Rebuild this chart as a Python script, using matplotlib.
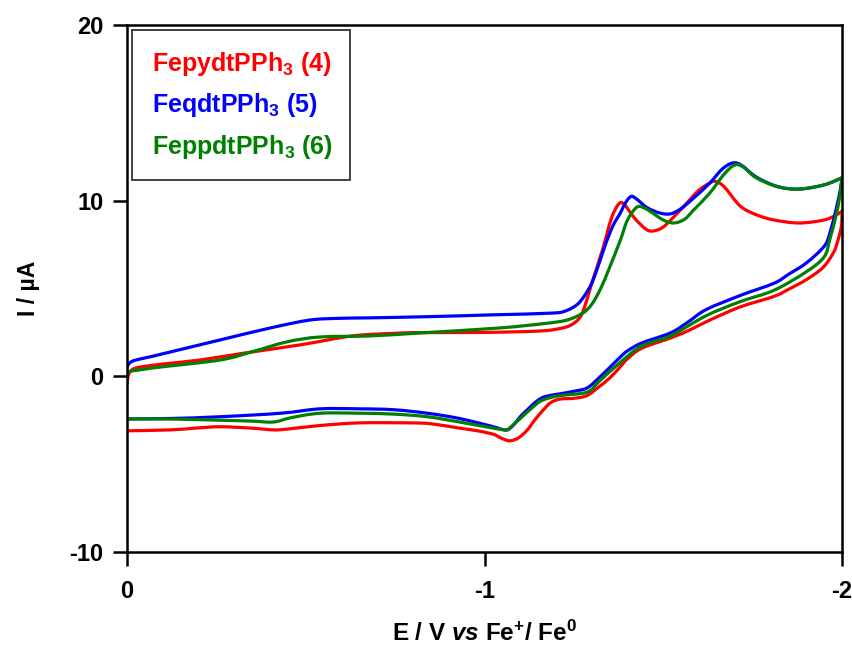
import matplotlib
matplotlib.use("Agg")
import matplotlib.pyplot as plt
from matplotlib.path import Path
from matplotlib.patches import PathPatch

# Cyclic voltammograms: forward sweep (0 -> -2 V) and return sweep (-2 -> 0 V)
red_fwd_E = [0, -0.003, -0.01, -0.03, -0.1, -0.204, -0.33, -0.484, -0.63, -0.75, -0.82, -1.0,
             -1.155, -1.21, -1.24, -1.265, -1.28, -1.30, -1.33, -1.355, -1.375, -1.39, -1.42,
             -1.45, -1.47, -1.50, -1.54, -1.566, -1.60, -1.63, -1.645, -1.67, -1.715, -1.76,
             -1.81, -1.88, -1.95, -1.985, -2.0]
red_fwd_I = [-0.38, 0.0, 0.3, 0.5, 0.7, 0.93, 1.33, 1.79, 2.3, 2.45, 2.49, 2.5,
             2.58, 2.72, 2.9, 3.3, 3.95, 5.3, 7.2, 9.0, 9.8, 9.8, 9.0,
             8.4, 8.27, 8.5, 9.3, 9.87, 10.6, 11.0, 11.1, 10.8, 9.7, 9.2,
             8.9, 8.73, 8.9, 9.2, 9.4]
red_rev_E = [-2.0, -1.998, -1.985, -1.975, -1.947, -1.9, -1.85, -1.81, -1.715, -1.63, -1.57,
             -1.52, -1.44, -1.40, -1.38, -1.35, -1.32, -1.286, -1.25, -1.21, -1.185, -1.165,
             -1.14, -1.12, -1.095, -1.07, -1.045, -1.025, -0.98, -0.93, -0.85, -0.79, -0.65,
             -0.54, -0.45, -0.41, -0.35, -0.26, -0.19, -0.12, 0]
red_rev_I = [9.4, 8.5, 7.5, 7.0, 6.2, 5.5, 4.95, 4.55, 3.95, 3.2, 2.6,
             2.18, 1.6, 1.0, 0.55, -0.1, -0.6, -1.1, -1.25, -1.3, -1.5, -1.9,
             -2.5, -3.05, -3.5, -3.67, -3.5, -3.3, -3.1, -2.95, -2.7, -2.65, -2.65,
             -2.8, -3.0, -3.05, -2.95, -2.87, -2.95, -3.05, -3.1]

blue_fwd_E = [0, -0.005, -0.02, -0.073, -0.26, -0.40, -0.51, -0.59, -0.68, -0.85, -1.02, -1.19,
              -1.23, -1.26, -1.28, -1.30, -1.32, -1.34, -1.36, -1.38, -1.395, -1.41, -1.425,
              -1.455, -1.49, -1.52, -1.55, -1.585, -1.63, -1.665, -1.695, -1.72, -1.76, -1.82,
              -1.88, -1.95, -2.0]
blue_fwd_I = [0.5, 0.7, 0.9, 1.15, 2.07, 2.75, 3.2, 3.3, 3.33, 3.4, 3.5, 3.6,
              3.75, 4.1, 4.6, 5.3, 6.4, 7.6, 8.6, 9.3, 9.9, 10.24, 10.1,
              9.6, 9.3, 9.25, 9.55, 10.15, 11.0, 11.8, 12.15, 12.0, 11.35, 10.8,
              10.66, 10.9, 11.3]
blue_rev_E = [-2.0, -1.995, -1.985, -1.966, -1.95, -1.9, -1.85, -1.81, -1.715, -1.62, -1.57,
              -1.52, -1.44, -1.40, -1.38, -1.35, -1.32, -1.287, -1.25, -1.21, -1.17, -1.147,
              -1.12, -1.10, -1.08, -1.063, -1.045, -1.025, -0.93, -0.84, -0.745, -0.65, -0.54,
              -0.43, -0.26, -0.12, 0]
blue_rev_I = [11.3, 10.6, 9.65, 8.15, 7.4, 6.45, 5.8, 5.3, 4.6, 3.8, 3.1,
              2.47, 1.9, 1.45, 1.1, 0.5, -0.09, -0.66, -0.85, -1.0, -1.15, -1.4,
              -1.9, -2.3, -2.8, -3.05, -3.0, -2.87, -2.4, -2.1, -1.9, -1.85, -1.85,
              -2.1, -2.3, -2.4, -2.42]

green_fwd_E = [0, -0.073, -0.26, -0.35, -0.447, -0.54, -0.68, -0.82, -1.04, -1.165, -1.23,
               -1.275, -1.30, -1.325, -1.35, -1.38, -1.40, -1.427, -1.45, -1.47, -1.50, -1.53,
               -1.56, -1.585, -1.63, -1.67, -1.70, -1.725, -1.76, -1.82, -1.88, -1.95, -2.0]
green_fwd_I = [0.25, 0.48, 0.93, 1.4, 1.96, 2.24, 2.3, 2.47, 2.75, 3.0, 3.2,
               3.6, 4.1, 5.0, 6.2, 7.75, 8.9, 9.64, 9.55, 9.3, 8.9, 8.73,
               8.95, 9.47, 10.43, 11.5, 12.03, 11.9, 11.3, 10.8, 10.66, 10.9, 11.3]
green_rev_E = [-2.0, -1.995, -1.985, -1.966, -1.95, -1.9, -1.81, -1.715, -1.62, -1.52, -1.44,
               -1.38, -1.32, -1.287, -1.21, -1.17, -1.147, -1.10, -1.07, -1.06, -1.025, -0.93,
               -0.84, -0.745, -0.65, -0.54, -0.46, -0.41, -0.35, -0.26, -0.12, 0]
green_rev_I = [11.3, 10.4, 9.3, 7.8, 6.8, 5.95, 4.9, 4.25, 3.45, 2.3, 1.73,
               0.8, -0.3, -0.9, -1.1, -1.3, -1.55, -2.4, -2.95, -3.05, -2.95, -2.6,
               -2.3, -2.15, -2.1, -2.1, -2.35, -2.6, -2.55, -2.5, -2.43, -2.43]

series_labels = ["FepydtPPh$_3$ (4)", "FeqdtPPh$_3$ (5)", "FeppdtPPh$_3$ (6)"]
series_colors = ["#ff0000", "#0000ff", "#008000"]

x_ticks = [0, -1, -2]
x_tick_labels = ["0", "-1", "-2"]
y_ticks = [20, 10, 0, -10]

plt.rcParams["font.family"] = ["Liberation Sans", "DejaVu Sans"]
plt.rcParams["font.weight"] = "bold"
plt.rcParams["mathtext.fontset"] = "custom"
plt.rcParams["mathtext.rm"] = "Liberation Sans:bold"
plt.rcParams["mathtext.it"] = "Liberation Sans:bold:italic"
plt.rcParams["mathtext.bf"] = "Liberation Sans:bold"


def smooth_path(xs, ys):
    """Catmull-Rom curve through the measured points, as cubic Bezier segments."""
    pts = list(zip(xs, ys))
    verts = [pts[0]]
    codes = [Path.MOVETO]
    n = len(pts)
    for i in range(n - 1):
        p0 = pts[i - 1] if i > 0 else pts[i]
        p1 = pts[i]
        p2 = pts[i + 1]
        p3 = pts[i + 2] if i + 2 < n else pts[i + 1]
        c1 = (p1[0] + (p2[0] - p0[0]) / 6.0, p1[1] + (p2[1] - p0[1]) / 6.0)
        c2 = (p2[0] - (p3[0] - p1[0]) / 6.0, p2[1] - (p3[1] - p1[1]) / 6.0)
        verts += [c1, c2, p2]
        codes += [Path.CURVE4] * 3
    return Path(verts, codes)


fig = plt.figure(figsize=(8.52, 6.47), dpi=100)
ax = fig.add_axes([127 / 852, 1 - 552 / 647, (842 - 127) / 852, (552 - 25) / 647])

data = [
    (red_fwd_E, red_fwd_I, red_rev_E, red_rev_I),
    (blue_fwd_E, blue_fwd_I, blue_rev_E, blue_rev_I),
    (green_fwd_E, green_fwd_I, green_rev_E, green_rev_I),
]
for (fe, fi, re_, ri), col in zip(data, series_colors):
    for xs, ys in ((fe, fi), (re_, ri)):
        ax.add_patch(PathPatch(smooth_path(xs, ys), fill=False, edgecolor=col,
                               lw=2.3, joinstyle="round", capstyle="round"))

ax.set_xlim(0, -2)
ax.set_ylim(-10, 20)
ax.set_xticks(x_ticks)
ax.set_xticklabels(x_tick_labels)
ax.set_yticks(y_ticks)
ax.set_yticklabels([str(v) for v in y_ticks])

for sp in ax.spines.values():
    sp.set_linewidth(1.8)
ax.tick_params(axis="both", direction="out", length=10, width=1.8, labelsize=17)
ax.tick_params(axis="y", pad=7)
ax.tick_params(axis="x", pad=10)
for lab in ax.get_xticklabels():
    lab.set_fontweight("bold")
for lab in ax.get_yticklabels():
    lab.set_fontweight("bold")

ax.set_xlabel("E / V $\\it{vs}$ Fe$^{+}$/ Fe$^{0}$", fontsize=17.5, fontweight="bold", labelpad=13)
ax.set_ylabel("I / \u00b5A", fontsize=16.5, fontweight="bold", labelpad=21)

# Legend box with coloured labels only
legend_ax_x0 = (132 - 127) / (842 - 127)
legend_ax_y1 = 1 - (30 - 25) / (552 - 25)
legend_w = (350 - 132) / (842 - 127)
legend_h = (180 - 30) / (552 - 25)
rect = plt.Rectangle((legend_ax_x0, legend_ax_y1 - legend_h), legend_w, legend_h,
                     transform=ax.transAxes, fill=True, facecolor="white",
                     edgecolor="#333333", lw=1.3, zorder=5)
ax.add_patch(rect)
text_y_px = [64, 105, 147]
for lab, col, ty in zip(series_labels, series_colors, text_y_px):
    ax.text((152 - 127) / (842 - 127), 1 - (ty - 25) / (552 - 25), lab,
            transform=ax.transAxes, color=col, fontsize=18, fontweight="bold",
            va="center", ha="left", zorder=6)

fig.savefig("out.png", dpi=100)
